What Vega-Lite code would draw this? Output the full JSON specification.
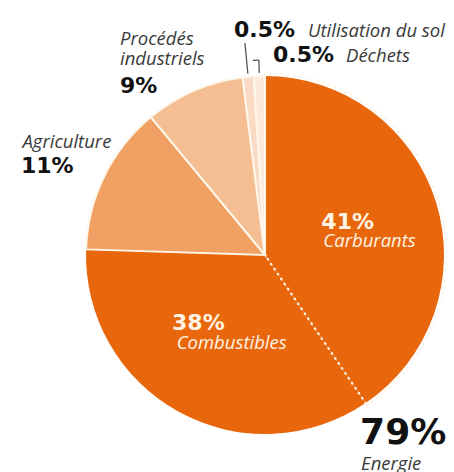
{
  "$schema": "https://vega.github.io/schema/vega-lite/v6.json",
  "autosize": {"type": "none"},
  "padding": {"left": 86, "top": 76, "right": 10, "bottom": 38},
  "width": 358,
  "height": 358,
  "background": "white",
  "view": {"stroke": null},
  "data": {
    "values": [
      {"categorie": "Carburants", "groupe": "Energie", "part": 40.5, "rang": 1, "pct": "41%", "groupe_pct": "79%"},
      {"categorie": "Combustibles", "groupe": "Energie", "part": 35, "rang": 2, "pct": "38%", "groupe_pct": "79%"},
      {"categorie": "Agriculture", "groupe": "Agriculture", "part": 13.5, "rang": 3, "pct": "11%", "groupe_pct": "11%"},
      {"categorie": "Procédés industriels", "groupe": "Procédés industriels", "part": 9, "rang": 4, "pct": "9%", "groupe_pct": "9%"},
      {"categorie": "Utilisation du sol", "groupe": "Utilisation du sol", "part": 1, "rang": 5, "pct": "0.5%", "groupe_pct": "0.5%"},
      {"categorie": "Déchets", "groupe": "Déchets", "part": 1, "rang": 6, "pct": "0.5%", "groupe_pct": "0.5%"}
    ]
  },
  "encoding": {
    "theta": {"field": "part", "type": "quantitative", "stack": true},
    "order": {"field": "rang", "type": "quantitative"},
    "detail": {"field": "categorie", "type": "nominal"}
  },
  "layer": [
    {
      "mark": {"type": "arc", "radius": 179, "stroke": "#FFF6EA"},
      "encoding": {
        "color": {
          "field": "categorie", "type": "nominal", "legend": null,
          "scale": {
            "domain": ["Carburants", "Combustibles", "Agriculture", "Procédés industriels", "Utilisation du sol", "Déchets"],
            "range": ["#E8670D", "#E8670D", "#F0A062", "#F5BE92", "#F9DAC4", "#FBE9DC"]
          }
        },
        "strokeWidth": {"condition": {"test": "datum.groupe === 'Energie'", "value": 0}, "value": 2}
      }
    },
    {
      "mark": {"type": "arc", "radius": 181.5, "fillOpacity": 0, "stroke": "#FFF3E6", "strokeWidth": 2.4, "strokeDash": [0.5, 5.5], "strokeCap": "round"},
      "encoding": {
        "strokeOpacity": {"condition": {"test": "datum.categorie === 'Carburants'", "value": 1}, "value": 0}
      }
    },
    {
      "mark": {"type": "arc", "innerRadius": 182, "radius": 213, "padAngle": 0.3, "fillOpacity": 0, "stroke": "#555555", "strokeWidth": 1.3},
      "encoding": {
        "strokeOpacity": {"condition": {"test": "datum.categorie === 'Utilisation du sol'", "value": 1}, "value": 0}
      }
    },
    {
      "mark": {"type": "arc", "innerRadius": 182, "radius": 195, "padAngle": 0.3, "fillOpacity": 0, "stroke": "#555555", "strokeWidth": 1.3},
      "encoding": {
        "strokeOpacity": {"condition": {"test": "datum.categorie === 'Déchets'", "value": 1}, "value": 0}
      }
    },
    {
      "mark": {"type": "arc", "innerRadius": 195, "radius": 195, "fillOpacity": 0, "stroke": "#555555", "strokeWidth": 1.3, "strokeDash": [0, 6.13, 6.13, 40]},
      "encoding": {
        "strokeOpacity": {"condition": {"test": "datum.categorie === 'Déchets'", "value": 1}, "value": 0}
      }
    },
    {
      "mark": {"type": "text", "radius": 60, "dx": -1, "dy": -8, "align": "left", "baseline": "alphabetic", "font": "DejaVu Sans", "fontWeight": "bold", "fontSize": 22, "color": "#FFF3E3"},
      "encoding": {"text": {"condition": {"test": "datum.categorie === 'Carburants'", "field": "pct", "type": "nominal"}, "value": ""}}
    },
    {
      "mark": {"type": "text", "radius": 60, "dx": 1, "dy": 10, "align": "left", "baseline": "alphabetic", "font": "Open Sans", "fontStyle": "italic", "fontSize": 18.5, "color": "#FFF3E3"},
      "encoding": {"text": {"condition": {"test": "datum.categorie === 'Carburants'", "field": "categorie", "type": "nominal"}, "value": ""}}
    },
    {
      "mark": {"type": "text", "radius": 90, "dx": -49.6, "dy": -4, "align": "left", "baseline": "alphabetic", "font": "DejaVu Sans", "fontWeight": "bold", "fontSize": 22, "color": "#FFF3E3"},
      "encoding": {"text": {"condition": {"test": "datum.categorie === 'Combustibles'", "field": "pct", "type": "nominal"}, "value": ""}}
    },
    {
      "mark": {"type": "text", "radius": 90, "dx": -45, "dy": 15, "align": "left", "baseline": "alphabetic", "font": "Open Sans", "fontStyle": "italic", "fontSize": 18.5, "color": "#FFF3E3"},
      "encoding": {"text": {"condition": {"test": "datum.categorie === 'Combustibles'", "field": "categorie", "type": "nominal"}, "value": ""}}
    },
    {
      "mark": {"type": "text", "radius": 211.5, "thetaOffset": 1.403, "align": "left", "baseline": "alphabetic", "font": "DejaVu Sans", "fontWeight": "bold", "fontSize": 36, "color": "#111111"},
      "encoding": {"text": {"condition": {"test": "datum.categorie === 'Carburants'", "field": "groupe_pct", "type": "nominal"}, "value": ""}}
    },
    {
      "mark": {"type": "text", "radius": 211.5, "thetaOffset": 1.403, "dx": 1, "dy": 26, "align": "left", "baseline": "alphabetic", "font": "Open Sans", "fontStyle": "italic", "fontSize": 18.5, "color": "#3A3A3A"},
      "encoding": {"text": {"condition": {"test": "datum.categorie === 'Carburants'", "field": "groupe", "type": "nominal"}, "value": ""}}
    },
    {
      "mark": {"type": "text", "radius": 230, "dx": -36, "dy": -6, "align": "left", "baseline": "alphabetic", "font": "Open Sans", "fontStyle": "italic", "fontSize": 18.5, "color": "#3A3A3A"},
      "encoding": {"text": {"condition": {"test": "datum.categorie === 'Agriculture'", "field": "categorie", "type": "nominal"}, "value": ""}}
    },
    {
      "mark": {"type": "text", "radius": 230, "dx": -37.5, "dy": 19, "align": "left", "baseline": "alphabetic", "font": "DejaVu Sans", "fontWeight": "bold", "fontSize": 22, "color": "#111111"},
      "encoding": {"text": {"condition": {"test": "datum.categorie === 'Agriculture'", "field": "pct", "type": "nominal"}, "value": ""}}
    },
    {
      "mark": {"type": "text", "radius": 200, "dx": -65.6, "dy": -26.4, "align": "left", "baseline": "alphabetic", "lineBreak": " ", "lineHeight": 20, "font": "Open Sans", "fontStyle": "italic", "fontSize": 18.5, "color": "#3A3A3A"},
      "encoding": {"text": {"condition": {"test": "datum.categorie === 'Procédés industriels'", "field": "categorie", "type": "nominal"}, "value": ""}}
    },
    {
      "mark": {"type": "text", "radius": 200, "dx": -65.6, "dy": 21.6, "align": "left", "baseline": "alphabetic", "font": "DejaVu Sans", "fontWeight": "bold", "fontSize": 22, "color": "#111111"},
      "encoding": {"text": {"condition": {"test": "datum.categorie === 'Procédés industriels'", "field": "pct", "type": "nominal"}, "value": ""}}
    },
    {
      "mark": {"type": "text", "radius": 215, "dx": -10.8, "dy": -4.4, "align": "left", "baseline": "alphabetic", "font": "DejaVu Sans", "fontWeight": "bold", "fontSize": 22, "color": "#111111"},
      "encoding": {"text": {"condition": {"test": "datum.categorie === 'Utilisation du sol'", "field": "pct", "type": "nominal"}, "value": ""}}
    },
    {
      "mark": {"type": "text", "radius": 215, "dx": 63.2, "dy": -4.4, "align": "left", "baseline": "alphabetic", "font": "Open Sans", "fontStyle": "italic", "fontSize": 18.5, "color": "#3A3A3A"},
      "encoding": {"text": {"condition": {"test": "datum.categorie === 'Utilisation du sol'", "field": "categorie", "type": "nominal"}, "value": ""}}
    },
    {
      "mark": {"type": "text", "radius": 196, "dx": 14.2, "dy": 2.9, "align": "left", "baseline": "alphabetic", "font": "DejaVu Sans", "fontWeight": "bold", "fontSize": 22, "color": "#111111"},
      "encoding": {"text": {"condition": {"test": "datum.categorie === 'Déchets'", "field": "pct", "type": "nominal"}, "value": ""}}
    },
    {
      "mark": {"type": "text", "radius": 196, "dx": 87.2, "dy": 2.9, "align": "left", "baseline": "alphabetic", "font": "Open Sans", "fontStyle": "italic", "fontSize": 18.5, "color": "#3A3A3A"},
      "encoding": {"text": {"condition": {"test": "datum.categorie === 'Déchets'", "field": "categorie", "type": "nominal"}, "value": ""}}
    }
  ]
}
